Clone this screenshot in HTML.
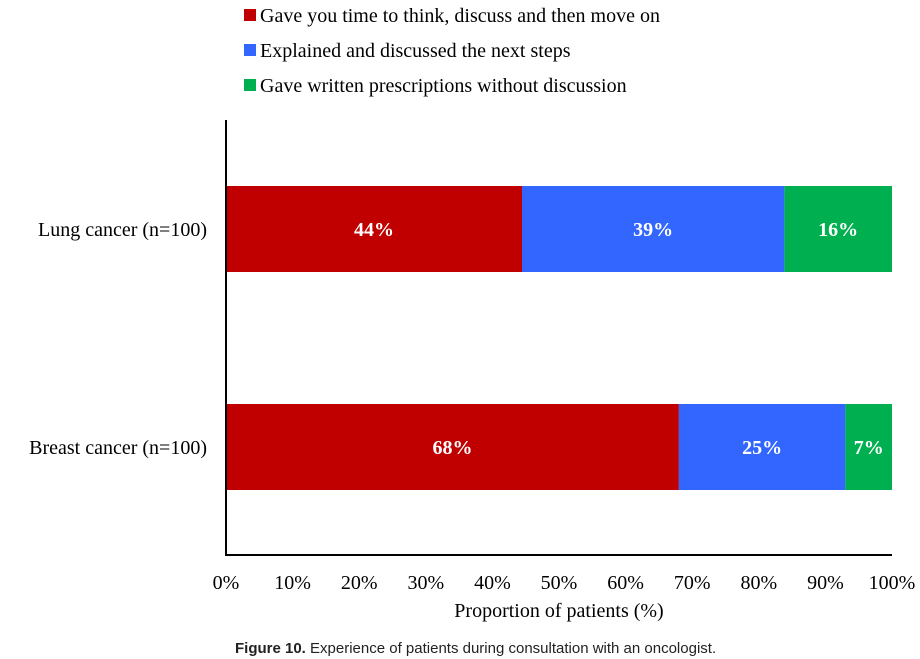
<!DOCTYPE html>
<html><head><meta charset="utf-8"><style>
body{margin:0;background:#fff;width:920px;height:659px;overflow:hidden}
svg{display:block}
.s{font-family:"Liberation Serif",serif}
</style></head><body>
<svg id="c" width="920" height="659"></svg>
<script>
const categories=["Lung cancer (n=100)","Breast cancer (n=100)"];
const seriesNames=["Gave you time to think, discuss and then move on","Explained and discussed the next steps","Gave written prescriptions without discussion"];
const seriesColors=["#c00000","#3366ff","#00b050"];
const thinkValues=[44,68];
const explainedValues=[39,25];
const writtenValues=[16,7];
const tickLabels=["0%","10%","20%","30%","40%","50%","60%","70%","80%","90%","100%"];
const series=[thinkValues,explainedValues,writtenValues];
const NS="http://www.w3.org/2000/svg";
const svg=document.getElementById('c');
const x0=226,x1=892;
const xScale=p=>x0+(x1-x0)*p;
const yCenter=i=>229+i*218;
const barH=86;
function mk(t,a,txt){const e=document.createElementNS(NS,t);for(const k in a)e.setAttribute(k,a[k]);if(txt!==undefined)e.textContent=txt;svg.appendChild(e);return e;}
// legend
seriesNames.forEach((n,i)=>{
 const r=mk('rect',{x:244,y:9+i*35,width:12,height:12,fill:seriesColors[i]});
 
 
 const t=mk('text',{x:260,y:22+i*35,'font-size':20,class:'s',fill:'#000'},n);
 
 
});
// bars
categories.forEach((c,ci)=>{
 const tot=series.reduce((s,a)=>s+a[ci],0);
 let acc=0;
 series.forEach((arr,si)=>{
  const v=arr[ci];
  const xa=xScale(acc/tot),xb=xScale((acc+v)/tot);
  const r=mk('rect',{x:xa,y:yCenter(ci)-barH/2,width:xb-xa,height:barH,fill:seriesColors[si]});
  
  
  const t=mk('text',{x:(xa+xb)/2,y:yCenter(ci)+7,'text-anchor':'middle','font-size':20,'font-weight':'bold',fill:'#fff',class:'s'},v+'%');
  
  
  acc+=v;
 });
 const l=mk('text',{x:207,y:yCenter(ci)+7,'text-anchor':'end','font-size':20,class:'s'},c);
 
 
});
// axes
const ya=mk('line',{x1:x0,y1:120,x2:x0,y2:555,stroke:'#000','stroke-width':2});


const xa=mk('line',{x1:x0-1,y1:555,x2:x1,y2:555,stroke:'#000','stroke-width':2});


tickLabels.forEach((t,i)=>{
 const e=mk('text',{x:xScale(i/10),y:589,'text-anchor':'middle','font-size':20,class:'s'},t);
 
 
});
const at=mk('text',{x:559,y:617,'text-anchor':'middle','font-size':20,class:'s'},'Proportion of patients (%)');


const cap=mk('text',{x:235,y:653,'font-size':15,'font-family':'"Liberation Sans Narrow","Liberation Sans",sans-serif',fill:'#222'});


cap.innerHTML='<tspan font-weight="bold">Figure 10.</tspan> Experience of patients during consultation with an oncologist.';
</script>
</body></html>
